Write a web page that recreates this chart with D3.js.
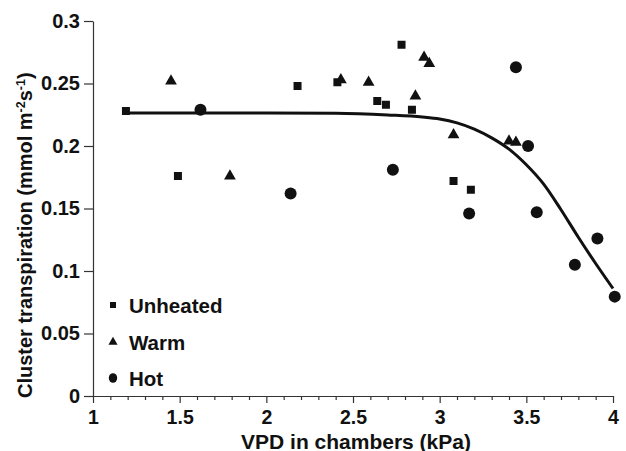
<!DOCTYPE html>
<html>
<head>
<meta charset="utf-8">
<script src="https://cdn.jsdelivr.net/npm/d3@7"></script>
<style>
  body { margin: 0; background: #fff; }
  svg text { font-family: "Liberation Sans", Arial, sans-serif; font-weight: bold; fill: #111; }
</style>
</head>
<body>
<div id="chart"></div>
<script>
// Dữ liệu
const unheatedX = [1.19, 1.49, 2.18, 2.41, 2.64, 2.69, 2.78, 2.84, 3.08, 3.18];
const unheatedY = [0.228, 0.176, 0.248, 0.251, 0.236, 0.233, 0.281, 0.229, 0.172, 0.165];

const warmX = [1.45, 1.79, 2.43, 2.59, 2.86, 2.91, 2.94, 3.08, 3.40, 3.44];
const warmY = [0.252, 0.176, 0.253, 0.251, 0.240, 0.271, 0.266, 0.209, 0.204, 0.203];

const hotX = [1.62, 2.14, 2.73, 3.17, 3.44, 3.51, 3.56, 3.78, 3.91, 4.01];
const hotY = [0.229, 0.162, 0.181, 0.146, 0.263, 0.200, 0.147, 0.105, 0.126, 0.0795];

// đường fit
const fitX = [1.19, 1.6, 2.0, 2.4, 2.7, 2.9, 3.0, 3.1, 3.2, 3.3, 3.4, 3.5, 3.6, 3.7, 3.8, 3.9, 4.0];
const fitY = [0.2265, 0.2265, 0.2265, 0.2262, 0.2248, 0.2232, 0.2216, 0.2185, 0.2135, 0.2065, 0.1975, 0.185, 0.1695, 0.149, 0.127, 0.106, 0.086];

const xMajorTicks = [1, 1.5, 2, 2.5, 3, 3.5, 4];
const xTickLabels = ["1", "1.5", "2", "2.5", "3", "3.5", "4"];
const yTicks = [0, 0.05, 0.1, 0.15, 0.2, 0.25, 0.3];
const yTickLabels = ["0", "0.05", "0.1", "0.15", "0.2", "0.25", "0.3"];

const legendNames = ["Unheated", "Warm", "Hot"];

const width = 626, height = 451;
const plotLeft = 93, plotRight = 613, plotTop = 21, plotBottom = 396;

const svg = d3.select("#chart").append("svg")
    .attr("width", width)
    .attr("height", height);

const x = d3.scaleLinear().domain([1, 4]).range([plotLeft, plotRight]);
const y = d3.scaleLinear().domain([0, 0.3]).range([plotBottom, plotTop]);

// trục X: tick chính + tick phụ
const minorTicks = d3.range(10, 41).map(d => d / 10).filter(d => Math.round(d * 10) % 5 !== 0);
svg.append("g")
    .attr("transform", `translate(0,${plotBottom})`)
    .call(d3.axisBottom(x).tickValues(minorTicks).tickSize(4).tickSizeOuter(0).tickFormat(""))
    .call(g => g.select(".domain").remove());

const xAxis = svg.append("g")
    .attr("transform", `translate(0,${plotBottom})`)
    .call(d3.axisBottom(x)
        .tickValues(xMajorTicks)
        .tickSize(7)
        .tickSizeOuter(0)
        .tickPadding(7)
        .tickFormat((d, i) => xTickLabels[i]));
xAxis.selectAll("text").style("font-size", "19.5px");

// trục Y
const yAxis = svg.append("g")
    .attr("transform", `translate(${plotLeft},0)`)
    .call(d3.axisLeft(y)
        .tickValues(yTicks)
        .tickSize(9)
        .tickSizeOuter(0)
        .tickPadding(4)
        .tickFormat((d, i) => yTickLabels[i]));
yAxis.selectAll("text").style("font-size", "20px");

svg.selectAll(".domain, .tick line").attr("stroke", "#333").attr("stroke-width", 1.2);

// đường cong
const fitData = fitX.map((d, i) => [d, fitY[i]]);
svg.append("path")
    .datum(fitData)
    .attr("fill", "none")
    .attr("stroke", "#111")
    .attr("stroke-width", 3)
    .attr("d", d3.line().x(d => x(d[0])).y(d => y(d[1])).curve(d3.curveMonotoneX));

// điểm
const sq = 8;
svg.selectAll(".unheated")
    .data(unheatedX.map((d, i) => [d, unheatedY[i]]))
    .enter().append("rect")
    .attr("x", d => x(d[0]) - sq / 2)
    .attr("y", d => y(d[1]) - sq / 2)
    .attr("width", sq).attr("height", sq)
    .attr("fill", "#111");

const tri = d3.symbol().type(d3.symbolTriangle).size(60);
svg.selectAll(".warm")
    .data(warmX.map((d, i) => [d, warmY[i]]))
    .enter().append("path")
    .attr("transform", d => `translate(${x(d[0])},${y(d[1])})`)
    .attr("d", tri)
    .attr("fill", "#111");

svg.selectAll(".hot")
    .data(hotX.map((d, i) => [d, hotY[i]]))
    .enter().append("circle")
    .attr("cx", d => x(d[0]))
    .attr("cy", d => y(d[1]))
    .attr("r", 6)
    .attr("fill", "#111");

// chú thích
const lg = svg.append("g");
const lgY = [305, 342, 378];
lg.append("rect").attr("x", 110).attr("y", lgY[0] - 3).attr("width", 6).attr("height", 6).attr("fill", "#111");
lg.append("path").attr("transform", `translate(113,${lgY[1]})`).attr("d", d3.symbol().type(d3.symbolTriangle).size(36)).attr("fill", "#111");
lg.append("ellipse").attr("cx", 113).attr("cy", lgY[2]).attr("rx", 4.2).attr("ry", 4.8).attr("fill", "#111");
lg.selectAll("text")
    .data(legendNames)
    .enter().append("text")
    .attr("x", 129)
    .attr("y", (d, i) => lgY[i] + 8)
    .style("font-size", "20.5px")
    .text(d => d);

// tiêu đề trục
svg.append("text")
    .attr("x", 356)
    .attr("y", 448.5)
    .attr("text-anchor", "middle")
    .style("font-size", "21px")
    .text("VPD in chambers (kPa)");

const yt = svg.append("text")
    .attr("transform", "translate(32,398) rotate(-90)")
    .attr("text-anchor", "start")
    .style("font-size", "20px");
yt.append("tspan").text("Cluster transpiration (mmol m");
yt.append("tspan").attr("dy", -7).style("font-size", "12.5px").text("-2");
yt.append("tspan").attr("dy", 7).text("s");
yt.append("tspan").attr("dy", -7).style("font-size", "12.5px").text("-1");
yt.append("tspan").attr("dy", 7).text(")");
</script>
</body>
</html>
